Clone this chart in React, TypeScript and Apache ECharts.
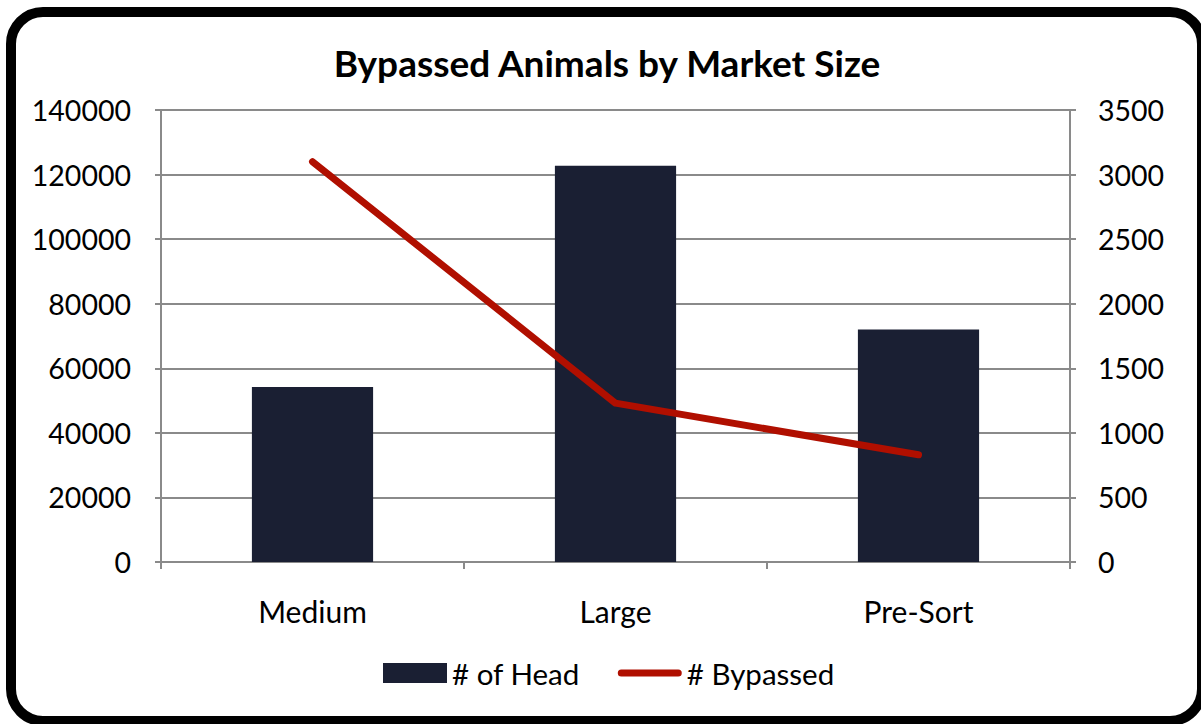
import React, { useEffect, useRef } from "react";
import * as echarts from "echarts";

const categories = ["Medium", "Large", "Pre-Sort"];
const headValues = [54200, 122700, 72000];
const bypassedValues = [3100, 1230, 830];
const titleText = "Bypassed Animals by Market Size";

const FONT = "Lato, 'Noto Sans', sans-serif";

export default function App() {
  const ref = useRef<HTMLDivElement>(null);
  useEffect(() => {
    if (!ref.current) return;
    const chart = echarts.init(ref.current, null, { renderer: "svg" });
    const axisGray = "#8a8a8a";
    const plain = (v: number) => String(v);
    chart.setOption({
      animation: false,
      backgroundColor: "#ffffff",
      textStyle: { fontFamily: FONT },
      grid: { left: 161, right: 131, top: 110, bottom: 162, containLabel: false },
      graphic: [
        {
          type: "rect",
          shape: { x: 11, y: 12, width: 1191, height: 709, r: 32 },
          style: { fill: "none", stroke: "#000", lineWidth: 10 },
          z: 100,
        },
        {
          type: "text",
          x: 607,
          y: 62,
          style: {
            text: titleText,
            textAlign: "center",
            textVerticalAlign: "middle",
            font: `bold 37px ${FONT}`,
            fill: "#000",
          },
        },
      ],
      legend: {
        bottom: 31,
        left: 378,
        itemWidth: 64,
        itemHeight: 20,
        itemGap: 38,
        textStyle: { fontSize: 29.5, color: "#000", fontFamily: FONT },
        data: [
          { name: "# of Head", icon: "rect" },
          {
            name: "# Bypassed",
            icon: "path://M4,0 H68 A4,4 0 0 1 68,8 H4 A4,4 0 0 1 4,0 Z",
            itemStyle: { color: "#b00f00" },
          },
        ],
      },
      xAxis: {
        type: "category",
        data: categories,
        axisLine: { lineStyle: { color: axisGray, width: 2 } },
        axisTick: { show: true, length: 7, lineStyle: { color: axisGray, width: 2 } },
        axisLabel: { fontSize: 30, color: "#000", margin: 34, fontFamily: FONT },
      },
      yAxis: [
        {
          type: "value",
          min: 0,
          max: 140000,
          interval: 20000,
          axisLine: { show: true, lineStyle: { color: axisGray, width: 2 } },
          axisTick: { show: true, length: 6, lineStyle: { color: axisGray, width: 2 } },
          splitLine: { show: true, lineStyle: { color: axisGray, width: 2 } },
          axisLabel: { fontSize: 28.5, color: "#000", margin: 30, fontFamily: FONT, formatter: plain },
        },
        {
          type: "value",
          min: 0,
          max: 3500,
          interval: 500,
          position: "right",
          axisLine: { show: true, lineStyle: { color: axisGray, width: 2 } },
          axisTick: { show: true, length: 6, lineStyle: { color: axisGray, width: 2 } },
          splitLine: { show: false },
          axisLabel: { fontSize: 28.5, color: "#000", margin: 28, fontFamily: FONT, formatter: plain },
        },
      ],
      series: [
        {
          name: "# of Head",
          type: "bar",
          data: headValues,
          barWidth: "40%",
          itemStyle: { color: "#1a1f33" },
          yAxisIndex: 0,
        },
        {
          name: "# Bypassed",
          type: "line",
          data: bypassedValues,
          yAxisIndex: 1,
          symbol: "none",
          itemStyle: { color: "#b00f00" },
          lineStyle: { color: "#b00f00", width: 7, cap: "round", join: "round" },
        },
      ],
    });
    return () => chart.dispose();
  }, []);
  return (
    <div
      ref={ref}
      style={{ position: "fixed", left: 0, top: 0, width: 1201, height: 724 }}
    />
  );
}
